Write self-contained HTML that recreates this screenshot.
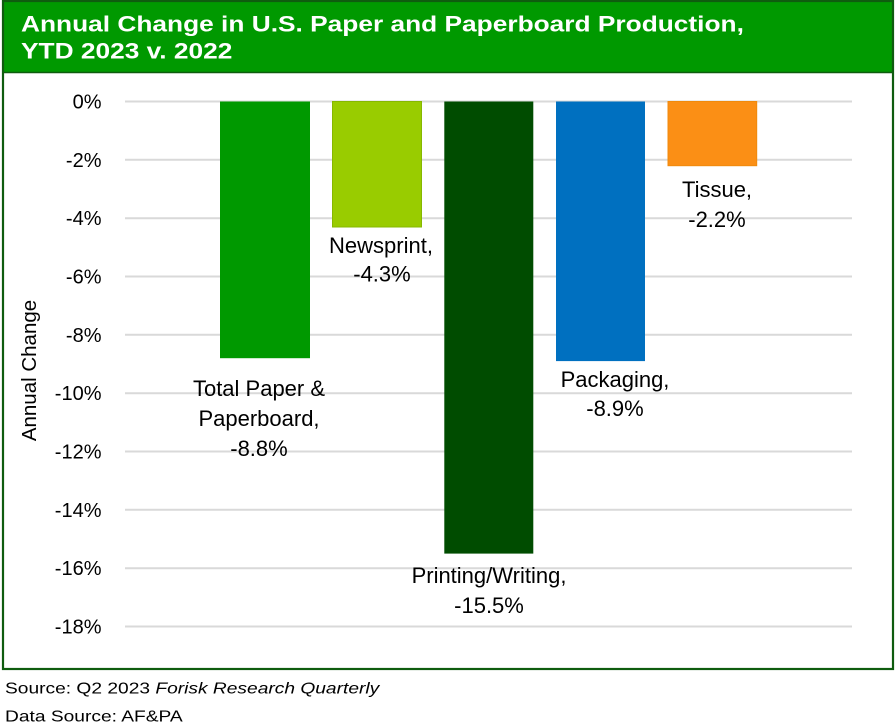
<!DOCTYPE html>
<html>
<head>
<meta charset="utf-8">
<style>
html,body{margin:0;padding:0;background:#fff;}
svg{display:block;}
</style>
</head>
<body>
<svg width="895" height="727" viewBox="0 0 895 727" xmlns="http://www.w3.org/2000/svg">
  <rect x="0" y="0" width="895" height="727" fill="#ffffff"/>
  <!-- header -->
  <rect x="3" y="1" width="890" height="71" fill="#009900"/>
  <line x1="3" y1="72.5" x2="893" y2="72.5" stroke="#0f5c0f" stroke-width="1.5"/>
  <!-- outer border -->
  <rect x="3" y="1" width="890" height="668" fill="none" stroke="#0f5c0f" stroke-width="2.2"/>

  <g font-family="'Liberation Sans', Arial, sans-serif" font-weight="bold" font-size="22" fill="#ffffff">
    <text transform="translate(21,31.5) scale(1.195,1)">Annual Change in U.S. Paper and Paperboard Production,</text>
    <text transform="translate(21,58.5) scale(1.195,1)">YTD 2023 v. 2022</text>
  </g>

  <!-- gridlines -->
  <g stroke="#d9d9d9" stroke-width="2">
    <line x1="125" y1="101.5" x2="852" y2="101.5"/>
    <line x1="125" y1="159.8" x2="852" y2="159.8"/>
    <line x1="125" y1="218.2" x2="852" y2="218.2"/>
    <line x1="125" y1="276.5" x2="852" y2="276.5"/>
    <line x1="125" y1="334.8" x2="852" y2="334.8"/>
    <line x1="125" y1="393.2" x2="852" y2="393.2"/>
    <line x1="125" y1="451.5" x2="852" y2="451.5"/>
    <line x1="125" y1="509.8" x2="852" y2="509.8"/>
    <line x1="125" y1="568.2" x2="852" y2="568.2"/>
    <line x1="125" y1="626.5" x2="852" y2="626.5"/>
  </g>

  <!-- tick labels -->
  <g font-family="'Liberation Sans', Arial, sans-serif" font-size="20" fill="#000" text-anchor="end">
    <text x="101.5" y="108.5">0%</text>
    <text x="101.5" y="166.8">-2%</text>
    <text x="101.5" y="225.2">-4%</text>
    <text x="101.5" y="283.5">-6%</text>
    <text x="101.5" y="341.8">-8%</text>
    <text x="101.5" y="400.2">-10%</text>
    <text x="101.5" y="458.5">-12%</text>
    <text x="101.5" y="516.8">-14%</text>
    <text x="101.5" y="575.2">-16%</text>
    <text x="101.5" y="633.5">-18%</text>
  </g>

  <!-- y axis title -->
  <text transform="translate(36,370.5) rotate(-90)" font-family="'Liberation Sans', Arial, sans-serif" font-size="20.5" fill="#000" text-anchor="middle">Annual Change</text>

  <!-- bars -->
  <rect x="220" y="101.5" width="90" height="256.7" fill="#009900"/>
  <rect x="332.5" y="101.5" width="89" height="125.5" fill="#99cc00" stroke="#86b800" stroke-width="1"/>
  <rect x="444.3" y="101.5" width="89" height="452.1" fill="#004c00"/>
  <rect x="556" y="101.5" width="89" height="259.6" fill="#0070c0"/>
  <rect x="668" y="101.5" width="88.7" height="64.2" fill="#fb8f15" stroke="#f08a0c" stroke-width="1"/>

  <!-- data labels -->
  <g font-family="'Liberation Sans', Arial, sans-serif" font-size="22" fill="#000" text-anchor="middle">
    <text x="259" y="396">Total Paper &amp;</text>
    <text x="259" y="426">Paperboard,</text>
    <text x="259" y="456">-8.8%</text>

    <text x="381" y="253">Newsprint,</text>
    <text x="382" y="281.5">-4.3%</text>

    <text x="489" y="583">Printing/Writing,</text>
    <text x="489" y="613">-15.5%</text>

    <text x="615" y="387">Packaging,</text>
    <text x="615" y="416">-8.9%</text>

    <text x="717" y="197">Tissue,</text>
    <text x="717" y="227">-2.2%</text>
  </g>

  <!-- source -->
  <g font-family="'Liberation Sans', Arial, sans-serif" font-size="16" fill="#000">
    <text transform="translate(5,693.5) scale(1.2,1)">Source: Q2 2023 <tspan font-style="italic">Forisk Research Quarterly</tspan></text>
    <text transform="translate(5,721.5) scale(1.2,1)">Data Source: AF&amp;PA</text>
  </g>
</svg>
</body>
</html>
